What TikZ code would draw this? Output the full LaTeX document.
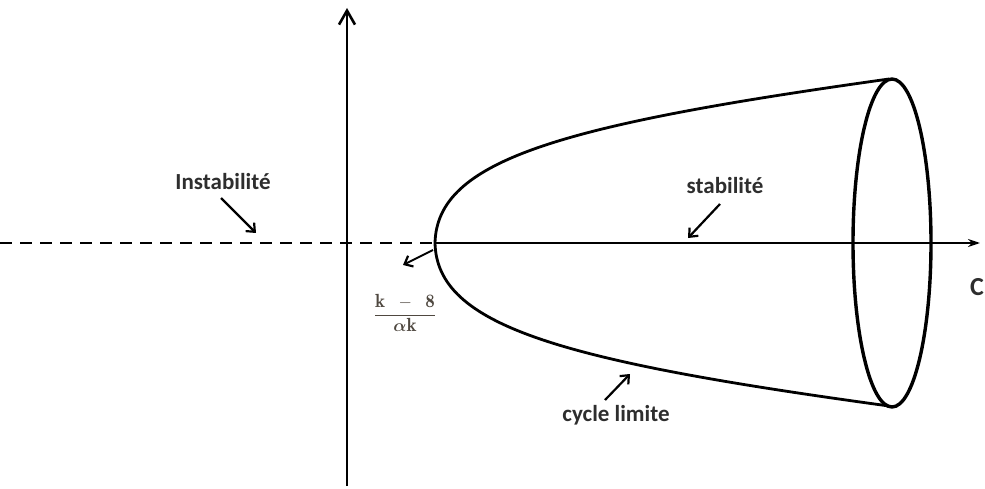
\documentclass[tikz,border=0pt]{standalone}
\usepackage{fontspec}
\setsansfont{Carlito}
\usetikzlibrary{arrows.meta}
\definecolor{lbl}{HTML}{2E2E2E}
\definecolor{fraccol}{HTML}{4F4840}
\newcommand{\myfrac}{\ensuremath{\displaystyle\frac{\mathbf{k}\;\;-\;\;\mathbf{8}}{\boldsymbol{\alpha}\mathbf{k}}}}
\usepackage{amsmath}
\begin{document}
\tikzset{
  axis/.style={line width=2.6pt, black},
  curve/.style={line width=2.8pt, black},
  annot/.style={line width=2.2pt, -{Straight Barb[length=7pt,width=12pt,line width=2.2pt]}},
  lab/.style={font=\sffamily\bfseries\fontsize{23}{26}\selectfont, text=lbl, inner sep=1pt},
}
\begin{tikzpicture}[x=1pt,y=-1pt]
\useasboundingbox (0,0) rectangle (985,489);
% axes
\coordinate (vb) at (347,486);
\coordinate (vt) at (347,8);
\draw[axis, -{Straight Barb[length=14pt,width=16pt,line width=2.6pt]}] (vb) -- (vt);
\coordinate (hl) at (0,243);
\coordinate (v) at (435,243);
\coordinate (hr) at (980,243);
\draw[axis, dash pattern=on 12pt off 8pt] (hl) -- (v);
\draw[axis, -{Stealth[length=12pt,width=8pt]}] (v) -- (hr);
\node[font=\sffamily\bfseries\fontsize{26}{28}\selectfont, text=lbl] (C) at (977,287) {C};
% paraboloid
\coordinate (ut) at (889,79);
\coordinate (lt) at (889,406);
\draw[curve] (ut) .. controls (560,125) and (437,160) .. (v)
                  .. controls (437,326) and (560,361) .. (lt);
\draw[line width=3.4pt] (892,243) ellipse [x radius=39, y radius=164];
% labels
\node[lab] (inst) at (223,182) {Instabilité};
\coordinate (ia) at (221,198);
\coordinate (ib) at (256,233);
\draw[annot] (ia) -- (ib);
\node[lab] (stab) at (725,186) {stabilité};
\coordinate (sa) at (720,204);
\coordinate (sb) at (688,238);
\draw[annot] (sa) -- (sb);
\node[text=fraccol, font=\fontsize{19}{21}\selectfont, inner sep=0pt] (fr) at (405,313) {\myfrac};
\coordinate (fa) at (433,250);
\coordinate (fb) at (403,265);
\draw[annot, line width=1.8pt] (fa) -- (fb);
\node[lab] (cyc) at (616,415) {cycle limite};
\coordinate (ca) at (605,400);
\coordinate (cb) at (630,374);
\draw[annot] (ca) -- (cb);
\end{tikzpicture}
\end{document}
